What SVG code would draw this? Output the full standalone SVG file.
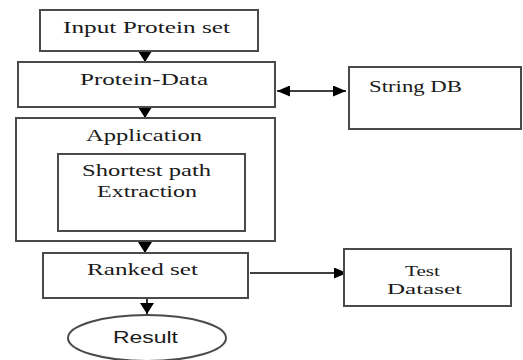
<svg xmlns="http://www.w3.org/2000/svg" width="523" height="360" viewBox="0 0 523 360">
<style>
.box{fill:#fff;stroke:#4a4a4a;stroke-width:2}
.t{font-family:"Liberation Serif",serif;font-size:17px;fill:#1a1a1a}
.sm{font-size:15px}
.s{font-family:"Liberation Sans",sans-serif;font-size:16px;fill:#1a1a1a}
.c{stroke:#000;stroke-width:1.6;fill:none}
</style>
<defs>
<marker id="ah" viewBox="0 0 10 10" refX="10" refY="5" markerWidth="13" markerHeight="11" markerUnits="userSpaceOnUse" orient="auto-start-reverse" preserveAspectRatio="none">
<path d="M0,0 L10,5 L0,10 z" fill="#000"/>
</marker>
<marker id="ahv" viewBox="0 0 10 10" refX="10" refY="5" markerWidth="11" markerHeight="14" markerUnits="userSpaceOnUse" orient="auto" preserveAspectRatio="none">
<path d="M0,0 L10,5 L0,10 z" fill="#000"/>
</marker>
</defs>
<g id="connectors">
<line class="c" x1="145" y1="51" x2="145" y2="62" marker-end="url(#ahv)"/>
<line class="c" x1="145" y1="107" x2="145" y2="118" marker-end="url(#ahv)"/>
<line class="c" x1="145" y1="241" x2="145" y2="253" marker-end="url(#ahv)"/>
<line class="c" x1="147" y1="298" x2="147" y2="314" marker-end="url(#ahv)"/>
<line class="c" x1="277" y1="91" x2="346" y2="91" marker-start="url(#ah)" marker-end="url(#ah)"/>
<line class="c" x1="250" y1="273" x2="347" y2="273" marker-end="url(#ah)"/>
</g>
<g id="input">
<rect class="box" x="40" y="10" width="218" height="41"/>
<text class="t" x="63" y="33" textLength="167" lengthAdjust="spacingAndGlyphs">Input Protein  set</text>
</g>
<g id="protein-data">
<rect class="box" x="18" y="62" width="257" height="45"/>
<text class="t" x="80" y="85" textLength="128" lengthAdjust="spacingAndGlyphs">Protein-Data</text>
</g>
<g id="string-db">
<rect class="box" x="349" y="67" width="172" height="62"/>
<text class="t" x="369" y="92" textLength="93" lengthAdjust="spacingAndGlyphs">String  DB</text>
</g>
<g id="application">
<rect class="box" x="16" y="118" width="259" height="123"/>
<text class="t" x="86" y="141" textLength="116" lengthAdjust="spacingAndGlyphs">Application</text>
</g>
<g id="shortest-path">
<rect class="box" x="58" y="154" width="187" height="77"/>
<text class="t" x="82" y="176" textLength="129" lengthAdjust="spacingAndGlyphs">Shortest path</text>
<text class="t" x="97" y="197" textLength="100" lengthAdjust="spacingAndGlyphs">Extraction</text>
</g>
<g id="ranked-set">
<rect class="box" x="43" y="253" width="205" height="45"/>
<text class="t" x="87" y="275" textLength="111" lengthAdjust="spacingAndGlyphs">Ranked set</text>
</g>
<g id="test-dataset">
<rect class="box" x="344" y="249" width="167" height="57"/>
<text class="t sm" x="405" y="276" textLength="35" lengthAdjust="spacingAndGlyphs">Test</text>
<text class="t sm" x="387" y="294" textLength="75" lengthAdjust="spacingAndGlyphs">Dataset</text>
</g>
<g id="result">
<ellipse cx="147" cy="338" rx="79" ry="23" fill="#fff" stroke="#4a4a4a" stroke-width="2"/>
<text class="s" x="113" y="343" textLength="65" lengthAdjust="spacingAndGlyphs">Result</text>
</g>
</svg>
